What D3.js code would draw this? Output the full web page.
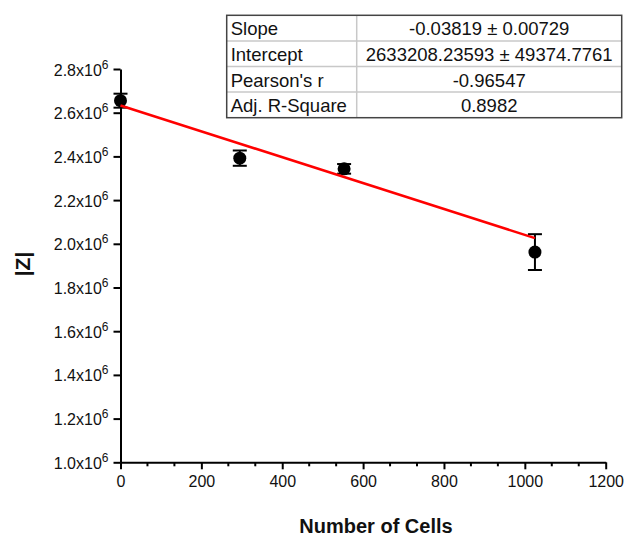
<!DOCTYPE html>
<html><head><meta charset="utf-8">
<script src="https://cdn.jsdelivr.net/npm/d3@7"></script>
<style>body{margin:0;background:#fff}svg{display:block;font-family:"Liberation Sans",Arial,sans-serif}</style>
</head><body>
<svg id="c" width="627" height="539"></svg>
<script>
const cells = [0, 295, 553, 1025];
const zVals = [2655000, 2392000, 2343000, 1962000];
const zErr = [32000, 35000, 22000, 82000];
const fitX = [0, 1025];
const fitY = [2633208, 2026000];
const xTicks = [0, 200, 400, 600, 800, 1000, 1200];
const yTicks = [1.0, 1.2, 1.4, 1.6, 1.8, 2.0, 2.2, 2.4, 2.6, 2.8];
const tableRows = ["Slope", "Intercept", "Pearson's r", "Adj. R-Square"];
const tableVals = ["-0.03819 \u00b1 0.00729", "2633208.23593 \u00b1 49374.7761", "-0.96547", "0.8982"];

const svg = d3.select("#c");
const L = 120.5, R = 605.7, T = 69, B = 462.3;
const x = d3.scaleLinear().domain([0, 1200]).range([L, R]);
const y = d3.scaleLinear().domain([1e6, 2.8e6]).range([B, T]);

// minor x ticks
const minor = d3.range(0, 1200.01, 200/3).filter(v => Math.abs(v/200 - Math.round(v/200)) > 1e-6);
svg.append("g").selectAll("line").data(minor).join("line")
  .attr("x1", d => x(d)).attr("x2", d => x(d)).attr("y1", B).attr("y2", B + 4)
  .attr("stroke", "#000").attr("stroke-width", 2);

const xa = svg.append("g").attr("transform", `translate(0,${B})`)
  .call(d3.axisBottom(x).tickValues(xTicks).tickSize(7).tickSizeOuter(0).tickPadding(6).tickFormat(d3.format("d")));
xa.select(".domain").attr("stroke-width", 2);
xa.selectAll(".tick line").attr("stroke-width", 2);
xa.selectAll("text").attr("font-size", 16).attr("font-family", "Liberation Sans, Arial, sans-serif").attr("fill", "#111");

const ya = svg.append("g").attr("transform", `translate(${L},0)`)
  .call(d3.axisLeft(y).tickValues(yTicks.map(v => v * 1e6)).tickSize(7).tickSizeOuter(0).tickFormat(""));
ya.select(".domain").attr("stroke-width", 2);
ya.selectAll(".tick line").attr("stroke-width", 2);
ya.selectAll(".tick").each(function(d) {
  const t = d3.select(this).append("text").attr("x", -12).attr("y", 6)
    .attr("text-anchor", "end").attr("font-size", 16).attr("fill", "#111")
    .attr("font-family", "Liberation Sans, Arial, sans-serif");
  t.append("tspan").text((d / 1e6).toFixed(1) + "x10");
  t.append("tspan").attr("dy", -7).attr("font-size", 12).text("6");
});

// error bars
const g = svg.append("g");
cells.forEach((c, i) => {
  const cx = x(c), top = y(zVals[i] + zErr[i]), bot = y(zVals[i] - zErr[i]);
  g.append("line").attr("x1", cx).attr("x2", cx).attr("y1", top).attr("y2", bot).attr("stroke", "#000").attr("stroke-width", 2);
  [top, bot].forEach(yy => g.append("line").attr("x1", cx - 7).attr("x2", cx + 7).attr("y1", yy).attr("y2", yy).attr("stroke", "#000").attr("stroke-width", 2));
});
g.selectAll("circle").data(cells).join("circle")
  .attr("cx", d => x(d)).attr("cy", (d, i) => y(zVals[i])).attr("r", 6.5).attr("fill", "#000");

// fit line
svg.append("path").datum(fitX.map((v, i) => [v, fitY[i]]))
  .attr("d", d3.line().x(d => x(d[0])).y(d => y(d[1])))
  .attr("stroke", "#ff0000").attr("stroke-width", 2.5).attr("fill", "none");

// titles
svg.append("text").attr("x", 376).attr("y", 533).attr("text-anchor", "middle")
  .attr("font-size", 20).attr("font-weight", "bold").attr("fill", "#111").text("Number of Cells");
svg.append("text").attr("transform", "translate(30,264) rotate(-90)").attr("text-anchor", "middle")
  .attr("font-size", 21).attr("font-weight", "bold").attr("fill", "#111").text("|Z|");

// table
const tL = 226.7, tR = 621.7, tT = 15.3, tB = 117.7, tC = 356.7;
const rowH = (tB - tT) / tableRows.length;
const tg = svg.append("g");
tg.append("rect").attr("x", tL).attr("y", tT).attr("width", tR - tL).attr("height", tB - tT).attr("fill", "#fff");
d3.range(1, tableRows.length).forEach(i => tg.append("line").attr("x1", tL).attr("x2", tR)
  .attr("y1", tT + i * rowH).attr("y2", tT + i * rowH).attr("stroke", "#c8c8c8").attr("stroke-width", 1.5));
tg.append("line").attr("x1", tC).attr("x2", tC).attr("y1", tT).attr("y2", tB).attr("stroke", "#c8c8c8").attr("stroke-width", 1.5);
tg.append("rect").attr("x", tL).attr("y", tT).attr("width", tR - tL).attr("height", tB - tT)
  .attr("fill", "none").attr("stroke", "#444").attr("stroke-width", 1.5);
tableRows.forEach((r, i) => {
  tg.append("text").attr("x", tL + 4).attr("y", tT + i * rowH + 20).attr("font-size", 18.5).attr("fill", "#111").text(r);
  tg.append("text").attr("x", (tC + tR) / 2).attr("y", tT + i * rowH + 20).attr("text-anchor", "middle")
    .attr("font-size", 18.5).attr("fill", "#111").text(tableVals[i]);
});
</script>
</body></html>
